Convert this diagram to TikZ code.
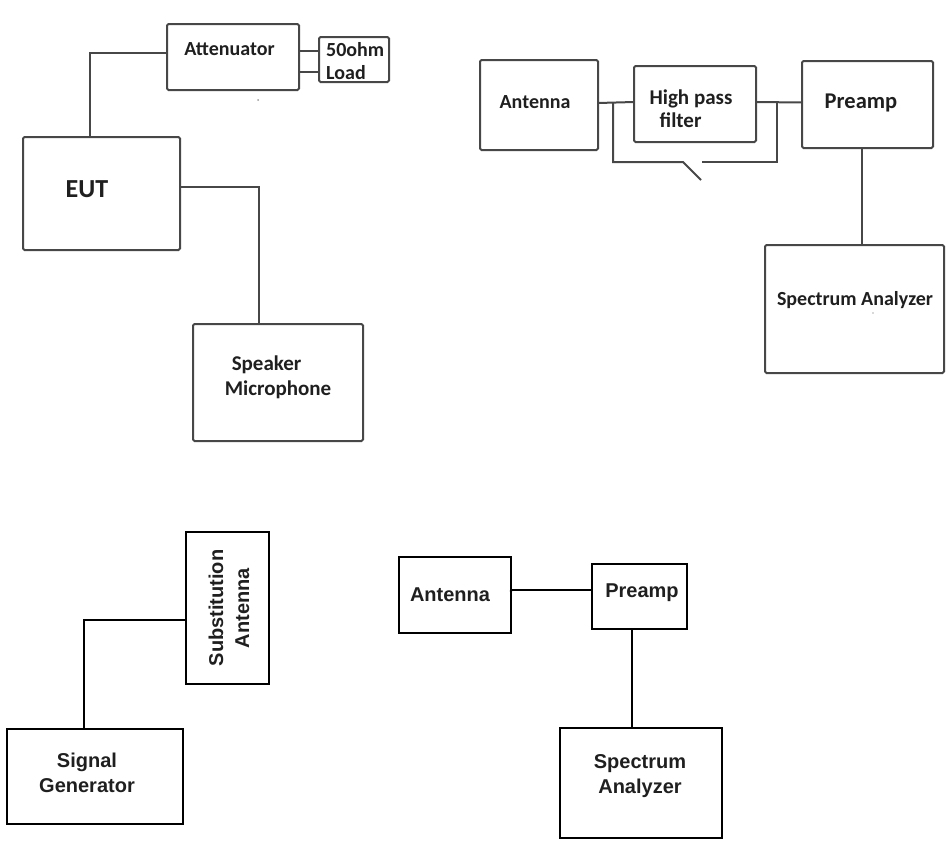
\documentclass[tikz,border=0pt]{standalone}
\usepackage{fontspec}
\newfontfamily\calfont{Carlito}
\newfontfamily\arlfont{Liberation Sans}
\begin{document}
\begin{tikzpicture}[x=1pt,y=-1pt,
  topbox/.style={draw=black!72,line width=2pt,rounded corners=1.5pt,inner sep=0pt,outer sep=0pt},
  botbox/.style={draw=black,line width=1.4pt,inner sep=0pt,outer sep=0pt},
  topline/.style={draw=black!72,line width=2pt},
  botline/.style={draw=black,line width=1.3pt},
  toptext/.style={font=\calfont\bfseries\fontsize{20}{23}\selectfont,inner sep=0pt,text=black!88},
  bottext/.style={font=\arlfont\bfseries\fontsize{20}{25}\selectfont,inner sep=0pt,text=black!88}]
\useasboundingbox (0,0) rectangle (948,846);
% ---------- top left ----------
\node[topbox,minimum width=132,minimum height=66] (att) at (233,57) {};
\node[topbox,minimum width=70,minimum height=45] (load) at (354,59.5) {};
\node[topbox,minimum width=157,minimum height=113] (eut) at (101.5,193.5) {};
\node[topbox,minimum width=170,minimum height=117] (spk) at (278,382.5) {};
\node[toptext] (attT) at (229.5,49) {Attenuator};
\node[toptext,align=left,anchor=west] (loadT) at (326,61) {50ohm\\Load};
\node[toptext,font=\calfont\bfseries\fontsize{26}{30}\selectfont] (eutT) at (87,189) {EUT};
\node[toptext,align=left,font=\calfont\bfseries\fontsize{21}{25}\selectfont] (spkT) at (278,377) {\hspace*{7pt}Speaker\\Microphone};
\coordinate (a1) at ([yshift=6pt]att.east);
\coordinate (a2) at ([yshift=-15pt]att.east);
\draw[topline] (a1) -- (a1 -| load.west);
\draw[topline] (a2) -- (a2 -| load.west);
\draw[topline] ([yshift=4pt]att.west) -| ([xshift=-11.5pt]eut.north);
\draw[topline] ([yshift=6.5pt]eut.east) -| ([xshift=-19pt]spk.north);
\fill[black!40] (258,100) circle (1);
% ---------- top right ----------
\node[topbox,minimum width=118,minimum height=90] (ant1) at (539,105) {};
\node[topbox,minimum width=122,minimum height=76] (hpf) at (695,104) {};
\node[topbox,minimum width=131,minimum height=87] (pre1) at (867.5,104.5) {};
\node[topbox,minimum width=179,minimum height=128] (sa1) at (854.5,309) {};
\node[toptext] (ant1T) at (535,102) {Antenna};
\node[toptext,align=left,font=\calfont\bfseries\fontsize{21}{23}\selectfont] (hpfT) at (691,109) {High pass\\\hspace*{10pt}filter};
\node[toptext,font=\calfont\bfseries\fontsize{22.5}{25}\selectfont] (pre1T) at (861,103) {Preamp};
\node[toptext] (sa1T) at (855,300) {Spectrum Analyzer};
\coordinate (jL) at (613,103);
\coordinate (jR) at (777,102);
\coordinate (bL) at (613,162);
\coordinate (sw1) at (683,162);
\coordinate (sw2) at (701,180);
\coordinate (sw3) at (702,162);
\coordinate (bR) at (777,162);
\draw[topline] ([yshift=2pt]ant1.east) -- ([yshift=2pt]hpf.west);
\draw[topline] ([yshift=2pt]hpf.east) -- ([yshift=2pt]pre1.west);
\draw[topline] (jL) -- (bL) -- (sw1) -- (sw2);
\draw[topline] (sw3) -- (bR) -- (jR);
\draw[topline] ([xshift=-5.5pt]pre1.south) -- ([xshift=-5.5pt]pre1.south |- sa1.north);
\fill[black!30] (873,313) circle (0.8);
% ---------- bottom left ----------
\node[botbox,minimum width=83,minimum height=152] (sub) at (227.5,608) {};
\node[botbox,minimum width=176,minimum height=95] (sig) at (95,776.5) {};
\node[bottext,rotate=90,align=center,font=\arlfont\bfseries\fontsize{20}{26}\selectfont] (subT) at (229,608) {Substitution\\Antenna};
\node[bottext,align=center] (sigT) at (87,773) {Signal\\Generator};
\draw[botline] ([yshift=-12pt]sub.west) -| ([xshift=-11pt]sig.north);
% ---------- bottom right ----------
\node[botbox,minimum width=112,minimum height=76] (ant2) at (455,595) {};
\node[botbox,minimum width=95,minimum height=65] (pre2) at (639.5,596.5) {};
\node[botbox,minimum width=162,minimum height=110] (sa2) at (641,783) {};
\node[bottext] (ant2T) at (450,595) {Antenna};
\node[bottext] (pre2T) at (642,593) {Preamp};
\node[bottext,align=center] (sa2T) at (640,776) {Spectrum\\Analyzer};
\draw[botline] ([yshift=5pt]ant2.east) -- ([yshift=5pt]ant2.east -| pre2.west);
\fill ([yshift=4pt]ant2.east) circle (1.3);
\draw[botline] ([xshift=-7.5pt]pre2.south) -- ([xshift=-7.5pt]pre2.south |- sa2.north);
\end{tikzpicture}
\end{document}
